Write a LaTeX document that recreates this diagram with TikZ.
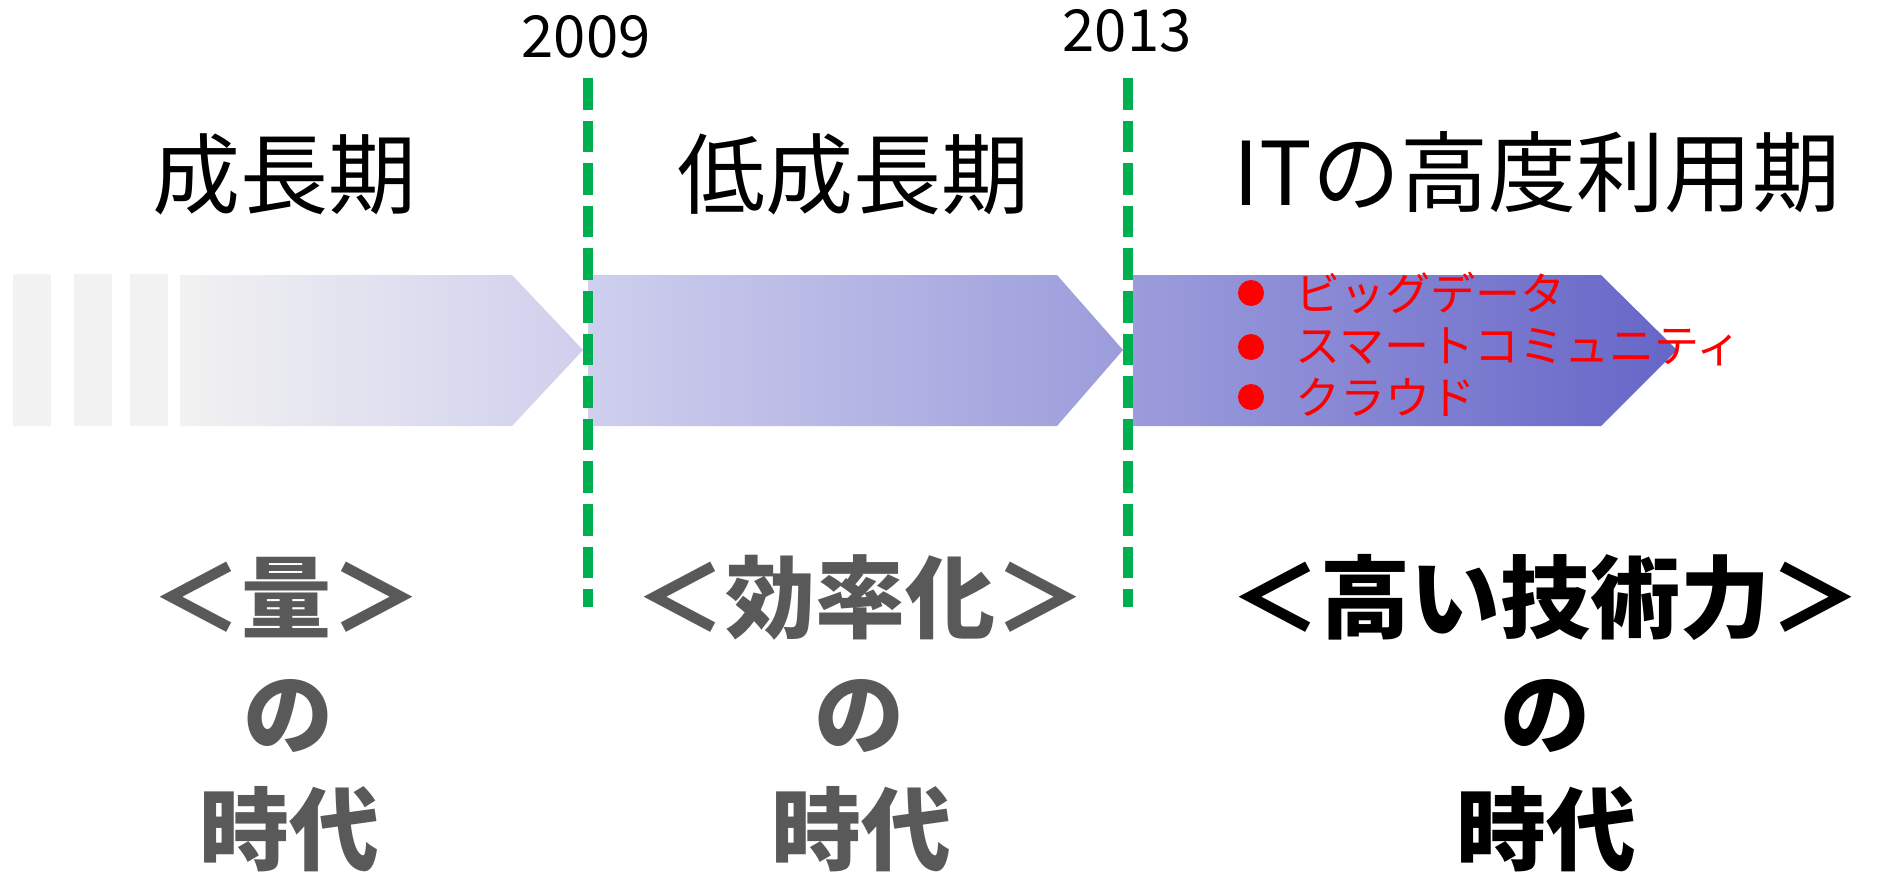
\documentclass[tikz,border=0pt]{standalone}
\usepackage{fontspec}
\setmainfont{Noto Sans CJK JP}
\usepackage{tikz}
\usetikzlibrary{positioning}

\definecolor{lineg}{HTML}{00B050}
\definecolor{txtgray}{HTML}{595959}
\definecolor{pale}{HTML}{F2F2F2}
\definecolor{lav1}{HTML}{CFCFEE}
\definecolor{lav2}{HTML}{9C9CDC}
\definecolor{lav3}{HTML}{6666C8}

\begin{document}
\begin{tikzpicture}[x=1pt,y=-1pt]
\tikzstyle{yearline}=[draw=lineg,line width=10pt,dash pattern=on 31.6pt off 11pt]
\tikzstyle{year}=[font=\fontsize{58}{62}\selectfont,inner sep=0pt,anchor=base]
\tikzstyle{period}=[font=\fontsize{88}{100}\selectfont,inner sep=0pt,anchor=base]
\tikzstyle{era}=[font=\bfseries\fontsize{90}{100}\selectfont,text=txtgray,inner sep=0pt,anchor=base]
\tikzstyle{item}=[font=\fontsize{45}{50}\selectfont,text=red,inner sep=0pt,anchor=west]
\tikzstyle{dot}=[circle,fill=red,minimum size=26pt,inner sep=0pt]
\useasboundingbox (0,0) rectangle (1879,872);
% faded bars
\fill[pale] (13,274) rectangle (51,426);
\fill[pale] (74,274) rectangle (112,426);
\fill[pale] (130,274) rectangle (168,426);
% period arrows
\shade[left color=pale,right color=lav1] (180,275) -- (512,275) -- (583,350) -- (512,426) -- (180,426) -- cycle;
\shade[left color=lav1,right color=lav2] (588,275) -- (1057,275) -- (1123,350) -- (1057,426) -- (588,426) -- cycle;
\shade[left color=lav2,right color=lav3] (1133,275) -- (1601,275) -- (1677,350) -- (1601,426) -- (1133,426) -- cycle;
% years
\node[year] (y1) at (586,58) {2009};
\node[year] (y2) at (1127,52) {2013};
\coordinate (l1a) at (588,78);
\coordinate (l1b) at (588,607);
\coordinate (l2a) at (1128,78);
\coordinate (l2b) at (1128,607);
\draw[yearline] (l1a) -- (l1b);
\draw[yearline] (l2a) -- (l2b);
% periods
\node[period] (p1) at (284,207) {成長期};
\node[period] (p2) at (853,207) {低成長期};
\node[period] (p3) at (1537,205) {ITの高度利用期};
% items
\node[dot] (d1) at (1251,293) {};
\node[dot] (d2) at (1251,347) {};
\node[dot] (d3) at (1251,397) {};
\node[item,right=31pt of d1] (i1) {ビッグデータ};
\node[item,right=31pt of d2] (i2) {スマートコミュニティ};
\node[item,right=31pt of d3] (i3) {クラウド};
% eras
\node[era] (e1) at (286,631) {＜量＞};
\node[era] (e1b) at (288,747) {の};
\node[era] (e1c) at (289,863) {時代};
\node[era] (e2) at (860,631) {＜効率化＞};
\node[era] (e2b) at (859,747) {の};
\node[era] (e2c) at (861,863) {時代};
\node[era,text=black] (e3) at (1545,631) {＜高い技術力＞};
\node[era,text=black] (e3b) at (1545,747) {の};
\node[era,text=black] (e3c) at (1546,863) {時代};
\end{tikzpicture}
\end{document}
